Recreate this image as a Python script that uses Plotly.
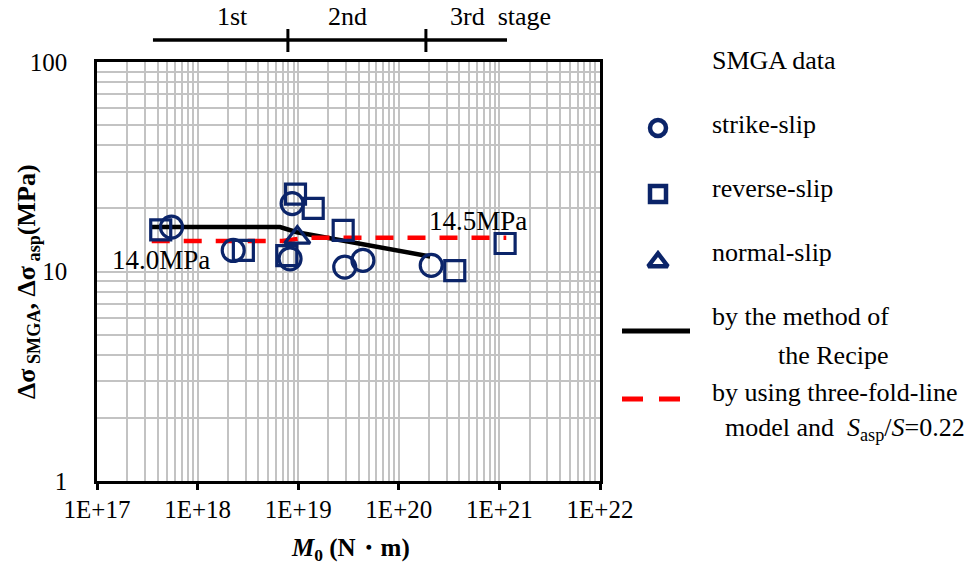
import plotly.graph_objects as go

# ---------------- data ----------------
strike_x = [5.5e17, 2.26e18, 8.3e18, 8.7e18, 2.9e19, 4.4e19, 2.1e20]
strike_y = [16.3, 12.6, 11.5, 21.1, 10.5, 11.3, 10.7]

reverse_x = [4.3e17, 2.85e18, 7.7e18, 9.4e18, 1.41e19, 2.8e19, 3.6e20, 1.14e21]
reverse_y = [15.8, 12.6, 11.9, 23.4, 20.0, 15.7, 10.1, 13.6]

normal_x = [9.8e18]
normal_y = [14.5]

recipe_x = [3.5e17, 6.6e18, 9.7e18, 2.05e20]
recipe_y = [16.3, 16.3, 15.4, 11.8]

threefold_x = [3.5e17, 7.0e18, 1.2e19, 1.17e21]
threefold_y = [14.0, 14.0, 14.5, 14.5]

stage_bounds = [3.6e17, 7.9e18, 1.86e20, 1.19e21]
stage_labels = ["1st", "2nd", "3rd  stage"]

x_tickvals = [1e17, 1e18, 1e19, 1e20, 1e21, 1e22]
x_ticktext = ["1E+17", "1E+18", "1E+19", "1E+20", "1E+21", "1E+22"]
y_tickvals = [1, 10, 100]
y_ticktext = ["1", "10", "100"]

# ---------------- layout geometry ----------------
W, H = 971, 574
L, T_PLOT, R_PLOT, B_PLOT = 97, 62, 600, 481
PW = W - L
PH = B_PLOT

def px(x):
    return (x - L) / PW

def py(y):
    return (B_PLOT - y) / PH

NAVY = "#0b2469"
FONT = "Liberation Serif, Times New Roman, Times, serif"
GRID = "#c3c3c3"

fig = go.Figure()

# data markers
fig.add_trace(go.Scatter(x=recipe_x, y=recipe_y, mode="lines",
                         line=dict(color="black", width=4.5), xaxis="x", yaxis="y"))
fig.add_trace(go.Scatter(x=threefold_x, y=threefold_y, mode="lines",
                         line=dict(color="#ff0000", width=4.5, dash="18px,14px"), xaxis="x", yaxis="y"))
fig.add_trace(go.Scatter(x=strike_x, y=strike_y, mode="markers",
                         marker=dict(symbol="circle-open", size=22, color=NAVY, line=dict(width=3.2, color=NAVY))))
fig.add_trace(go.Scatter(x=reverse_x, y=reverse_y, mode="markers",
                         marker=dict(symbol="square-open", size=20, color=NAVY, line=dict(width=3.2, color=NAVY))))
fig.add_trace(go.Scatter(x=normal_x, y=normal_y, mode="markers",
                         marker=dict(symbol="triangle-up-open", size=22, color=NAVY, line=dict(width=3.2, color=NAVY))))

# stage bar (on its own axes above the plot, same M0 log scale)
fig.add_trace(go.Scatter(x=[stage_bounds[0], stage_bounds[-1]], y=[40, 40], mode="lines",
                         line=dict(color="black", width=3.5), xaxis="x5", yaxis="y3"))
for b in stage_bounds[1:-1]:
    fig.add_trace(go.Scatter(x=[b, b], y=[29, 52], mode="lines",
                             line=dict(color="black", width=3), xaxis="x5", yaxis="y3"))

# legend symbols (own axes, pixel-coded)
fig.add_trace(go.Scatter(x=[658], y=[128], mode="markers", xaxis="x4", yaxis="y4",
                         marker=dict(symbol="circle-open", size=16, color=NAVY, line=dict(width=4.5, color=NAVY))))
fig.add_trace(go.Scatter(x=[658], y=[194], mode="markers", xaxis="x4", yaxis="y4",
                         marker=dict(symbol="square-open", size=16, color=NAVY, line=dict(width=4.5, color=NAVY))))
fig.add_trace(go.Scatter(x=[658], y=[262], mode="markers", xaxis="x4", yaxis="y4",
                         marker=dict(symbol="triangle-up-open", size=17, color=NAVY, line=dict(width=4.5, color=NAVY))))
fig.add_trace(go.Scatter(x=[622, 690], y=[331, 331], mode="lines", xaxis="x4", yaxis="y4",
                         line=dict(color="black", width=5)))
fig.add_trace(go.Scatter(x=[622, 681], y=[399, 399], mode="lines", xaxis="x4", yaxis="y4",
                         line=dict(color="#ff0000", width=5, dash="21px,16px")))

minor_x = [k * 10.0 ** n for n in range(17, 22) for k in range(2, 10)]
minor_y = [k * 10.0 ** n for n in range(0, 2) for k in range(2, 10)]

x_dom_end = (R_PLOT - L) / PW
y_dom_end = (B_PLOT - T_PLOT) / PH
leg_dom_start = 0.6

annotations = []
def txt(text, x, y, size=26, xanchor="left", **kw):
    annotations.append(dict(text=text, x=px(x), y=py(y), xref="paper", yref="paper",
                            xanchor=xanchor, yanchor="middle", showarrow=False,
                            font=dict(family=FONT, size=size, color="black"), **kw))

# stage labels
txt(stage_labels[0], 232, 16, xanchor="center")
txt(stage_labels[1], 347, 16, xanchor="center")
txt(stage_labels[2], 500, 16, xanchor="center")

# value labels
txt("14.0MPa", 161, 260, size=27, xanchor="center")
txt("14.5MPa", 478, 221, size=27, xanchor="center")

# legend texts
txt("SMGA data", 710, 60)
txt("strike-slip", 710, 125)
txt("reverse-slip", 710, 188)
txt("normal-slip", 710, 252)
txt("by the method of", 710, 316)
txt("the Recipe", 776, 355)
txt("by using three-fold-line", 710, 392)
txt("model and  <i>S</i><sub>asp</sub>/<i>S</i>=0.22", 723, 429)

# axis titles
txt("<b>Δσ<sub> SMGA</sub>, Δσ<sub> asp</sub>(MPa)</b>", 28, 282, size=26, xanchor="center", textangle=-90)
txt("<b><i>M</i><sub>0</sub> (N・m)</b>", 350, 549, size=25, xanchor="center")

hidden = dict(visible=False, showgrid=False, zeroline=False, automargin=False)

fig.update_layout(
    width=W, height=H,
    margin=dict(l=L, r=0, t=0, b=H - B_PLOT, autoexpand=False),
    paper_bgcolor="white", plot_bgcolor="white",
    showlegend=False,
    font=dict(family=FONT, size=25, color="black"),
    xaxis=dict(type="log", range=[17, 22], domain=[0, x_dom_end], anchor="y",
               tickvals=x_tickvals, ticktext=x_ticktext, automargin=False,
               ticks="", ticklabelstandoff=4,
               showline=True, linecolor="black", linewidth=2.5, mirror=True,
               showgrid=True, gridcolor=GRID, gridwidth=1.5,
               minor=dict(tickvals=minor_x, showgrid=True, gridcolor=GRID, gridwidth=1.5, ticks=""),
               tickfont=dict(family=FONT, size=25), zeroline=False),
    # overlay axis carrying only the outside tick marks
    xaxis6=dict(type="log", range=[17, 22], domain=[0, x_dom_end], anchor="y", overlaying="x",
                tickvals=x_tickvals, showticklabels=False, automargin=False,
                ticks="outside", ticklen=8, tickwidth=2.5, tickcolor="black",
                showline=False, showgrid=False, zeroline=False),
    yaxis=dict(type="log", range=[0, 2], domain=[0, y_dom_end], anchor="x",
               tickvals=y_tickvals, ticktext=y_ticktext, ticks="", automargin=False,
               ticklabelstandoff=22,
               showline=True, linecolor="black", linewidth=2.5, mirror=True,
               showgrid=True, gridcolor=GRID, gridwidth=1.5,
               minor=dict(tickvals=minor_y, showgrid=True, gridcolor=GRID, gridwidth=1.5, ticks=""),
               tickfont=dict(family=FONT, size=25), zeroline=False),
    xaxis5=dict(type="log", range=[17, 22], domain=[0, x_dom_end], anchor="y3", **hidden),
    yaxis3=dict(domain=[y_dom_end, 1], range=[T_PLOT, 0], anchor="x5", **hidden),
    xaxis4=dict(domain=[leg_dom_start, 1], range=[L + leg_dom_start * PW, W], anchor="y4", **hidden),
    yaxis4=dict(domain=[0, 1], range=[B_PLOT, 0], anchor="x4", **hidden),
    annotations=annotations,
)
# a dummy trace so the tick-mark overlay axis is drawn
fig.add_trace(go.Scatter(x=[x_tickvals[0]], y=[y_tickvals[0]], xaxis="x6", yaxis="y",
                         mode="markers", marker=dict(opacity=0), hoverinfo="skip"))

fig.write_html("out.html")
